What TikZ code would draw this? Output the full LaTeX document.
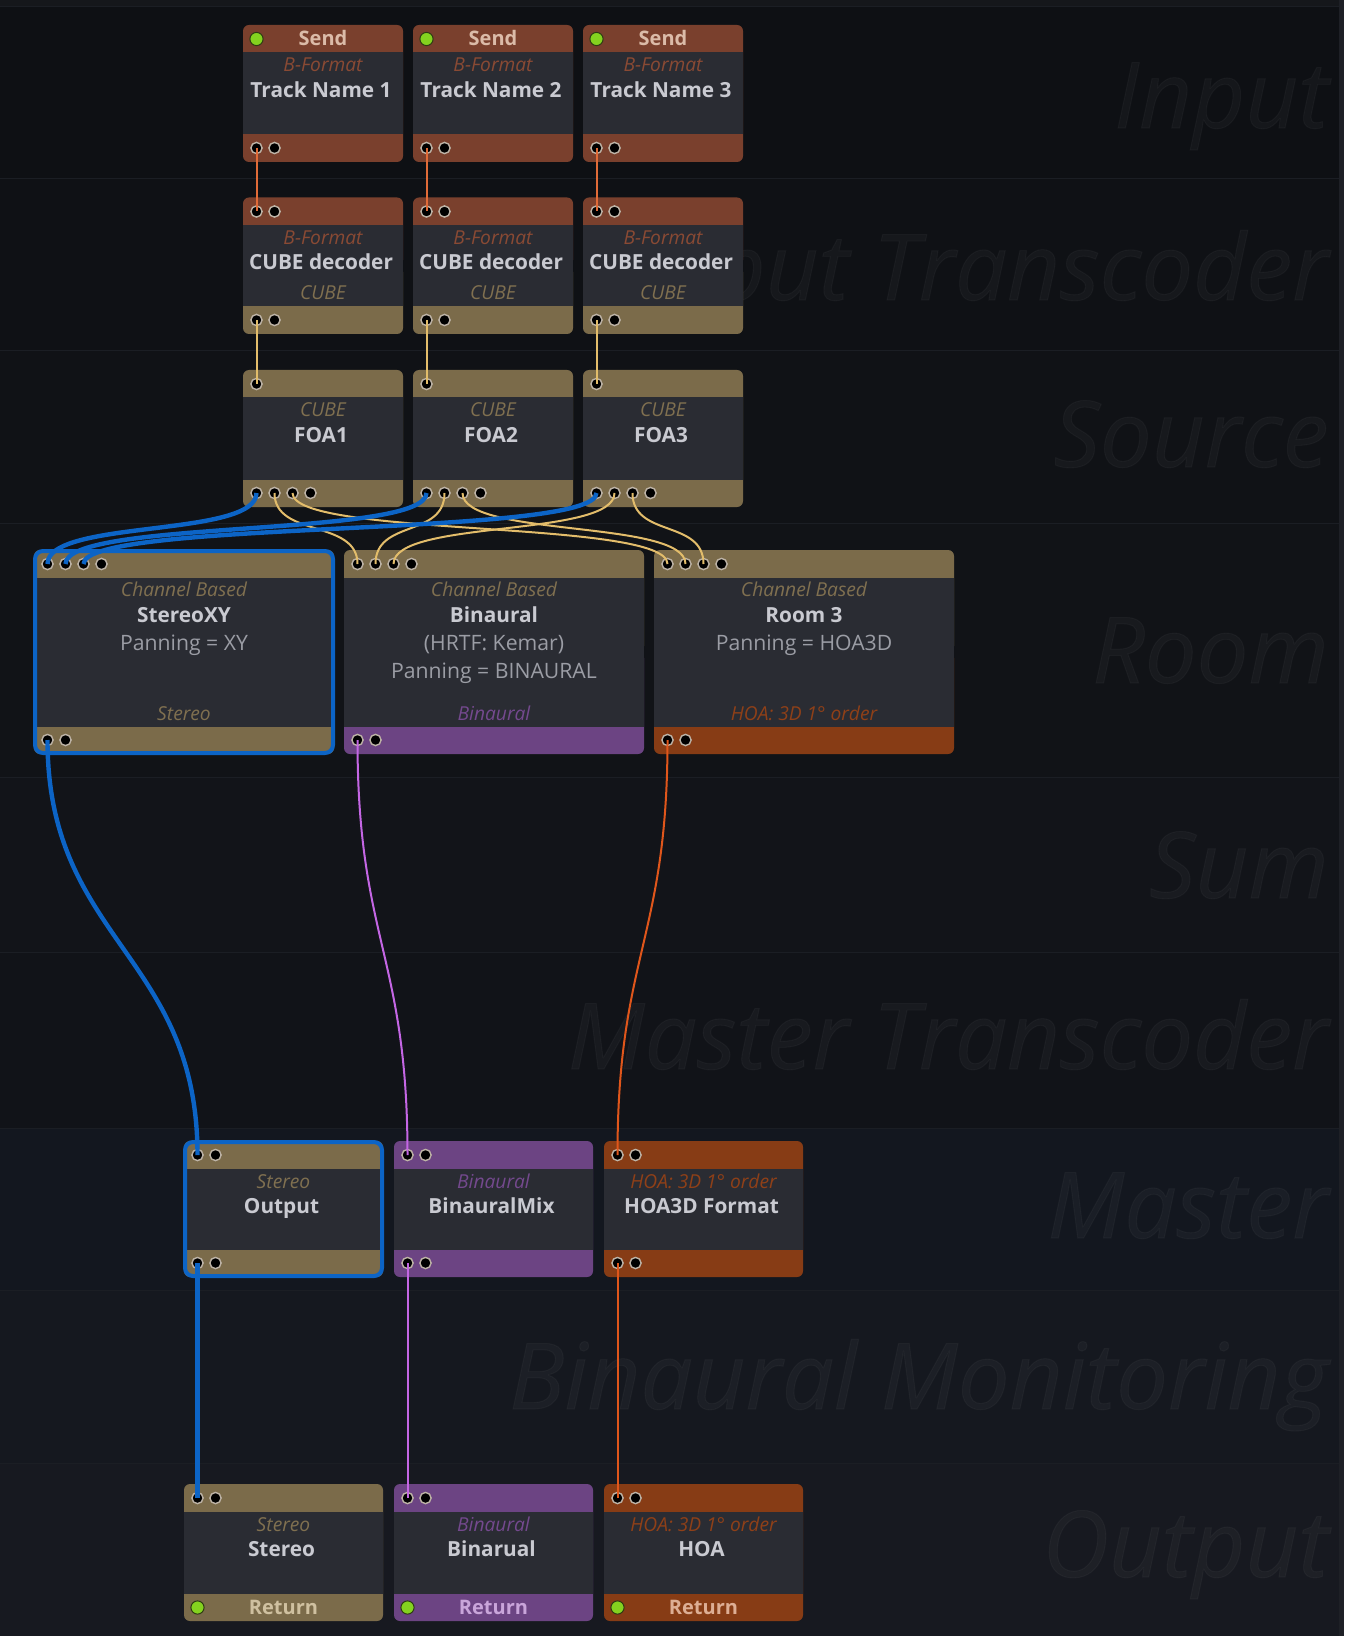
\documentclass[tikz,border=0pt]{standalone}
\usepackage{fontspec}
\setmainfont{Open Sans}
\newfontfamily\bandfont[FakeBold=1.2]{Open Sans}
\usepackage{tikz}
\usepackage{xcolor}

\definecolor{bandtop}{HTML}{15171B}
\definecolor{bandA}{HTML}{0E1014}
\definecolor{bandB}{HTML}{0F1115}
\definecolor{bandC}{HTML}{101216}
\definecolor{bandD}{HTML}{111317}
\definecolor{bandE}{HTML}{121419}
\definecolor{bandF}{HTML}{111318}
\definecolor{bandG}{HTML}{13171F}
\definecolor{bandH}{HTML}{15181F}
\definecolor{bandI}{HTML}{171920}
\definecolor{bandline}{HTML}{1B1E24}
\definecolor{edgestrip}{HTML}{1E2026}
\definecolor{bodygrey}{HTML}{2A2C33}
\definecolor{sendbrown}{HTML}{7A402D}
\definecolor{cubetan}{HTML}{7B6B4A}
\definecolor{binpurple}{HTML}{6C4483}
\definecolor{hoaorange}{HTML}{873C15}
\definecolor{sendtext}{HTML}{DBBBA8}
\definecolor{rettan}{HTML}{CFC0A0}
\definecolor{retpurple}{HTML}{C9A5DA}
\definecolor{retorange}{HTML}{DDAE94}
\definecolor{bfmttext}{HTML}{8A4A34}
\definecolor{cubetext}{HTML}{807050}
\definecolor{bintext}{HTML}{74498E}
\definecolor{hoatext}{HTML}{8F4018}
\definecolor{titlegrey}{HTML}{C9CAD1}
\definecolor{infogrey}{HTML}{9B9DA5}
\definecolor{portring}{HTML}{BDB3A6}
\definecolor{lampgreen}{HTML}{84D21F}
\definecolor{lampedge}{HTML}{2E3B12}
\definecolor{selblue}{HTML}{0C64C6}
\definecolor{sendwire}{HTML}{E06B38}
\definecolor{cubewire}{HTML}{E3BD6B}
\definecolor{binwire}{HTML}{C466E4}
\definecolor{hoawire}{HTML}{E0561B}

\begin{document}
\begin{tikzpicture}[
  x=0.5pt, y=-0.5pt,
  every node/.style={inner sep=0pt},
  port/.style={circle, fill=black, draw=portring, line width=0.7pt, minimum size=5.6pt},
  lamp/.style={circle, fill=lampgreen, draw=lampedge, line width=0.5pt, minimum size=6.6pt},
  bartext/.style={font=\fontsize{10}{12}\selectfont\bfseries, anchor=base},
  subtext/.style={font=\fontsize{9.6}{11}\selectfont\itshape, anchor=base},
  titletext/.style={font=\fontsize{10.4}{12}\selectfont\bfseries, text=titlegrey, anchor=base},
  infotext/.style={font=\fontsize{10.6}{12}\selectfont, text=infogrey, anchor=base},
  bandlabel/.style={font=\fontsize{46}{50}\selectfont\bandfont\itshape, text=white, text opacity=0.032, anchor=base east},
  wire/.style={line width=1pt},
  fatwire/.style={line width=2.2pt, draw=selblue},
  selected/.style={draw=selblue, line width=2pt, rounded corners=4pt}
]
\useasboundingbox (0,0) rectangle (1344,1636);

% Background bands with their faint labels
\fill[bandtop] (0,0) rectangle (1344,7);
\foreach \ya/\yb/\col/\yt/\lab [count=\i] in {
    7/179/bandA/128/Input,
    179/351/bandB/300/Input Transcoder,
    351/523/bandC/467/Source,
    523/777/bandD/683/Room,
    777/952/bandE/898/Sum,
    952/1128/bandF/1069/Master Transcoder,
    1128/1290/bandG/1238/Master,
    1290/1463/bandH/1409/Binaural Monitoring,
    1463/1636/bandI/1577/Output} {
  \fill[\col] (0,\ya) rectangle (1339,\yb);
  \draw[bandline, line width=0.5pt] (0,\ya) -- (1339,\ya);
  \node[bandlabel] (band\i) at (1329,\yt) {\lab};
}
\fill[edgestrip] (1339,0) rectangle (1344,1636);

% Input: send nodes
\foreach \i/\bx in {1/243, 2/413, 3/583} {
  \fill[sendbrown, rounded corners=3pt] (\bx,25) rectangle (\bx+160,162);
  \fill[bodygrey] (\bx,52.5) rectangle (\bx+160,134.5);
  \node[lamp] (send\i-lamp) at (\bx+13.5,39) {};
  \node[bartext, text=sendtext] (send\i-head) at (\bx+80,45.7) {Send};
  \node[subtext, text=bfmttext] (send\i-fmt) at (\bx+80,71.7) {B-Format};
  \node[titletext] (send\i) at (\bx+78,97.7) {Track Name \i};
  \foreach \k in {1,2}
    \node[port] (send\i-out\k) at (\bx-4.5+18*\k,148) {};
}

% Input transcoder: CUBE decoders
\foreach \i/\bx in {1/243, 2/413, 3/583} {
  \fill[sendbrown, rounded corners=3pt] (\bx,197.5) rectangle (\bx+160,266);
  \fill[cubetan, rounded corners=3pt] (\bx,266) rectangle (\bx+160,334);
  \fill[bodygrey] (\bx,225) rectangle (\bx+160,306.5);
  \node[subtext, text=bfmttext] (dec\i-fmt) at (\bx+80,245) {B-Format};
  \node[titletext] (dec\i) at (\bx+78,270) {CUBE decoder};
  \node[subtext, text=cubetext] (dec\i-outfmt) at (\bx+80,300) {CUBE};
  \foreach \k in {1,2} {
    \node[port] (dec\i-in\k) at (\bx-4.5+18*\k,211.5) {};
    \node[port] (dec\i-out\k) at (\bx-4.5+18*\k,320) {};
  }
}

% Source: FOA
\foreach \i/\bx in {1/243, 2/413, 3/583} {
  \fill[cubetan, rounded corners=3pt] (\bx,370) rectangle (\bx+160,507);
  \fill[bodygrey] (\bx,397.5) rectangle (\bx+160,479.5);
  \node[subtext, text=cubetext] (foa\i-fmt) at (\bx+80,416.5) {CUBE};
  \node[titletext] (foa\i) at (\bx+78,442.5) {FOA\i};
  \node[port] (foa\i-in1) at (\bx+13.5,384) {};
  \foreach \k in {1,...,4}
    \node[port] (foa\i-out\k) at (\bx-4.5+18*\k,493) {};
}

% Room
\foreach \n/\bx/\ttl/\outc/\fmtc/\fmt in {
    rxy/34/StereoXY/cubetan/cubetext/Stereo,
    rbin/344/Binaural/binpurple/bintext/Binaural,
    rhoa/654/Room 3/hoaorange/hoatext/HOA: 3D 1° order} {
  \fill[cubetan, rounded corners=3pt] (\bx,550) rectangle (\bx+300,652);
  \fill[\outc, rounded corners=3pt] (\bx,652) rectangle (\bx+300,754);
  \fill[bodygrey] (\bx,577.5) rectangle (\bx+300,726.5);
  \node[subtext, text=cubetext] (\n-fmt) at (\bx+150,596) {Channel Based};
  \node[titletext] (\n) at (\bx+150,622.7) {\ttl};
  \node[subtext, text=\fmtc] (\n-outfmt) at (\bx+150,720) {\fmt};
  \foreach \k in {1,...,4}
    \node[port] (\n-in\k) at (\bx-4.5+18*\k,564) {};
  \foreach \k in {1,2}
    \node[port] (\n-out\k) at (\bx-4.5+18*\k,740) {};
}
\node[infotext] (rxy-pan) at (184,650) {Panning = XY};
\node[infotext] (rbin-hrtf) at (494,650) {(HRTF: Kemar)};
\node[infotext] (rbin-pan) at (494,678) {Panning = BINAURAL};
\node[infotext] (rhoa-pan) at (804,650) {Panning = HOA3D};

% Master
\foreach \n/\bx/\ttl/\col/\fmtc/\fmt in {
    mst/184/Output/cubetan/cubetext/Stereo,
    mbin/394/BinauralMix/binpurple/bintext/Binaural,
    mhoa/604/HOA3D Format/hoaorange/hoatext/HOA: 3D 1° order} {
  \fill[\col, rounded corners=3pt] (\bx,1141) rectangle (\bx+199,1277);
  \fill[bodygrey] (\bx,1168.5) rectangle (\bx+199,1249.5);
  \node[subtext, text=\fmtc] (\n-fmt) at (\bx+99.5,1188) {\fmt};
  \node[titletext] (\n) at (\bx+97.5,1213.5) {\ttl};
  \foreach \k in {1,2} {
    \node[port] (\n-in\k) at (\bx-4.5+18*\k,1155) {};
    \node[port] (\n-out\k) at (\bx-4.5+18*\k,1263) {};
  }
}

% Output: return nodes
\foreach \n/\bx/\ttl/\col/\fmtc/\fmt/\retc in {
    ost/184/Stereo/cubetan/cubetext/Stereo/rettan,
    obin/394/Binarual/binpurple/bintext/Binaural/retpurple,
    ohoa/604/HOA/hoaorange/hoatext/HOA: 3D 1° order/retorange} {
  \fill[\col, rounded corners=3pt] (\bx,1484) rectangle (\bx+199,1621);
  \fill[bodygrey] (\bx,1511.5) rectangle (\bx+199,1593.5);
  \node[subtext, text=\fmtc] (\n-fmt) at (\bx+99.5,1531) {\fmt};
  \node[titletext] (\n) at (\bx+97.5,1556.5) {\ttl};
  \node[lamp] (\n-lamp) at (\bx+13.5,1607.5) {};
  \node[bartext, text=\retc] (\n-foot) at (\bx+99.5,1614) {Return};
  \foreach \k in {1,2}
    \node[port] (\n-in\k) at (\bx-4.5+18*\k,1498) {};
}

% Selection frames
\draw[selected] (35,551) rectangle (333,753);
\draw[selected] (185,1142) rectangle (382,1276);

% Connectors
\foreach \i in {1,2,3} {
  \draw[wire, sendwire] (send\i-out1.center) -- (dec\i-in1.center);
  \draw[wire, cubewire] (dec\i-out1.center) -- (foa\i-in1.center);
  \draw[wire, cubewire] (foa\i-out2.center) .. controls +(0,45) and +(0,-45) .. (rbin-in\i.center);
  \draw[wire, cubewire] (foa\i-out3.center) .. controls +(0,45) and +(0,-45) .. (rhoa-in\i.center);
  \draw[fatwire] (foa\i-out1.center) .. controls +(0,45) and +(0,-45) .. (rxy-in\i.center);
}
\draw[fatwire] (rxy-out1.center) .. controls +(0,200) and +(0,-200) .. (mst-in1.center);
\draw[wire, binwire] (rbin-out1.center) .. controls +(0,200) and +(0,-200) .. (mbin-in1.center);
\draw[wire, hoawire] (rhoa-out1.center) .. controls +(0,200) and +(0,-200) .. (mhoa-in1.center);
\draw[fatwire] (mst-out1.center) -- (ost-in1.center);
\draw[wire, binwire] (mbin-out1.center) -- (obin-in1.center);
\draw[wire, hoawire] (mhoa-out1.center) -- (ohoa-in1.center);

\end{tikzpicture}
\end{document}
